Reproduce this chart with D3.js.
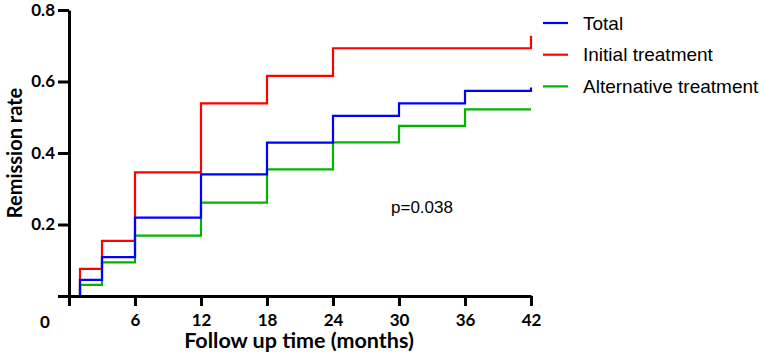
<!DOCTYPE html>
<html>
<head>
<meta charset="utf-8">
<script src="https://cdn.jsdelivr.net/npm/d3@7"></script>
<style>
  body { margin: 0; background: #fff; }
  .axisBlack path, .axisBlack line { stroke: #000; stroke-width: 3; }
  .axisBlack text { fill: #000; font-family: Lato, "Open Sans", sans-serif; font-weight: bold; font-size: 17px; }
</style>
</head>
<body>
<div id="remission-chart"></div>
<script>
// follow-up months where the curves step
var months = [0, 1, 3, 6, 12, 18, 24, 30, 36, 42];
var totalRate       = [0, 0.045, 0.109, 0.219, 0.340, 0.429, 0.504, 0.539, 0.574, 0.583];
var initialRate     = [0, 0.076, 0.154, 0.346, 0.539, 0.616, 0.693, 0.693, 0.693, 0.728];
var alternativeRate = [0, 0.031, 0.094, 0.169, 0.261, 0.354, 0.430, 0.476, 0.522, 0.522];

var seriesNames  = ["Total", "Initial treatment", "Alternative treatment"];
var seriesColors = ["#0000ff", "#ff0000", "#00b400"];
var xTicks = [0, 6, 12, 18, 24, 30, 36, 42];
var yTicks = [0, 0.2, 0.4, 0.6, 0.8];

var margin = { top: 10, right: 234, bottom: 62, left: 69 },
    width = 765 - margin.left - margin.right,
    height = 358 - margin.top - margin.bottom;

var svg = d3.select("#remission-chart")
    .append("svg")
    .attr("width", 765)
    .attr("height", 358)
    .append("g")
    .attr("transform", "translate(" + margin.left + "," + margin.top + ")");

var x = d3.scaleLinear().domain([0, 42]).range([0, width]);
var y = d3.scaleLinear().domain([0, 0.8]).range([height, 0]);

var allSeries = [totalRate, initialRate, alternativeRate];

var stepLine = d3.line()
    .x(function (d, i) { return x(months[i]); })
    .y(function (d) { return y(d); })
    .curve(d3.curveStepAfter);

// draw red, green, then blue on top
[1, 2, 0].forEach(function (k) {
    svg.append("path")
        .datum(allSeries[k])
        .attr("fill", "none")
        .attr("stroke", seriesColors[k])
        .attr("stroke-width", 2.2)
        .attr("d", stepLine);
});

// x axis
svg.append("g")
    .attr("class", "axisBlack")
    .attr("transform", "translate(0," + height + ")")
    .call(d3.axisBottom(x)
        .tickValues(xTicks)
        .tickSize(10)
        .tickSizeOuter(0)
        .tickPadding(8)
        .tickFormat(function (d) { return d === 0 ? "" : d; }));

// y axis
svg.append("g")
    .attr("class", "axisBlack")
    .call(d3.axisLeft(y)
        .tickValues(yTicks)
        .tickSize(11)
        .tickSizeOuter(0)
        .tickPadding(3)
        .tickFormat(function (d) { return d === 0 ? "" : d3.format(".1f")(d); }));

// shared origin label
svg.append("text")
    .attr("x", -24)
    .attr("y", height + 32)
    .attr("text-anchor", "middle")
    .attr("font-family", "Lato, 'Open Sans', sans-serif")
    .attr("font-weight", "bold")
    .attr("font-size", "17px")
    .text("0");

svg.append("text")
    .attr("x", x(21) - 1)
    .attr("y", height + 52)
    .attr("text-anchor", "middle")
    .attr("font-family", "Lato, 'Open Sans', sans-serif")
    .attr("font-weight", "bold")
    .attr("font-size", "21.5px")
    .text("Follow up time (months)");

svg.append("text")
    .attr("transform", "translate(" + (-47) + "," + y(0.4) + ") rotate(-90)")
    .attr("text-anchor", "middle")
    .attr("font-family", "Lato, 'Open Sans', sans-serif")
    .attr("font-weight", "bold")
    .attr("font-size", "20px")
    .text("Remission rate");

svg.append("text")
    .attr("x", 322)
    .attr("y", 203)
    .attr("font-family", "'Liberation Sans', Arial, sans-serif")
    .attr("font-size", "17px")
    .attr("fill", "#000")
    .text("p=0.038");

// legend
var legend = svg.selectAll(".legend")
    .data(seriesNames)
    .enter()
    .append("g")
    .attr("transform", function (d, i) { return "translate(" + (width + 12) + "," + (13 + i * 31.7) + ")"; });

legend.append("line")
    .attr("x1", 0)
    .attr("x2", 25)
    .attr("stroke", function (d, i) { return seriesColors[i]; })
    .attr("stroke-width", 2.2);

legend.append("text")
    .attr("x", 40)
    .attr("y", 6.5)
    .attr("font-family", "'Liberation Sans', Arial, sans-serif")
    .attr("font-size", "19px")
    .attr("fill", "#000")
    .text(function (d) { return d; });
</script>
</body>
</html>
